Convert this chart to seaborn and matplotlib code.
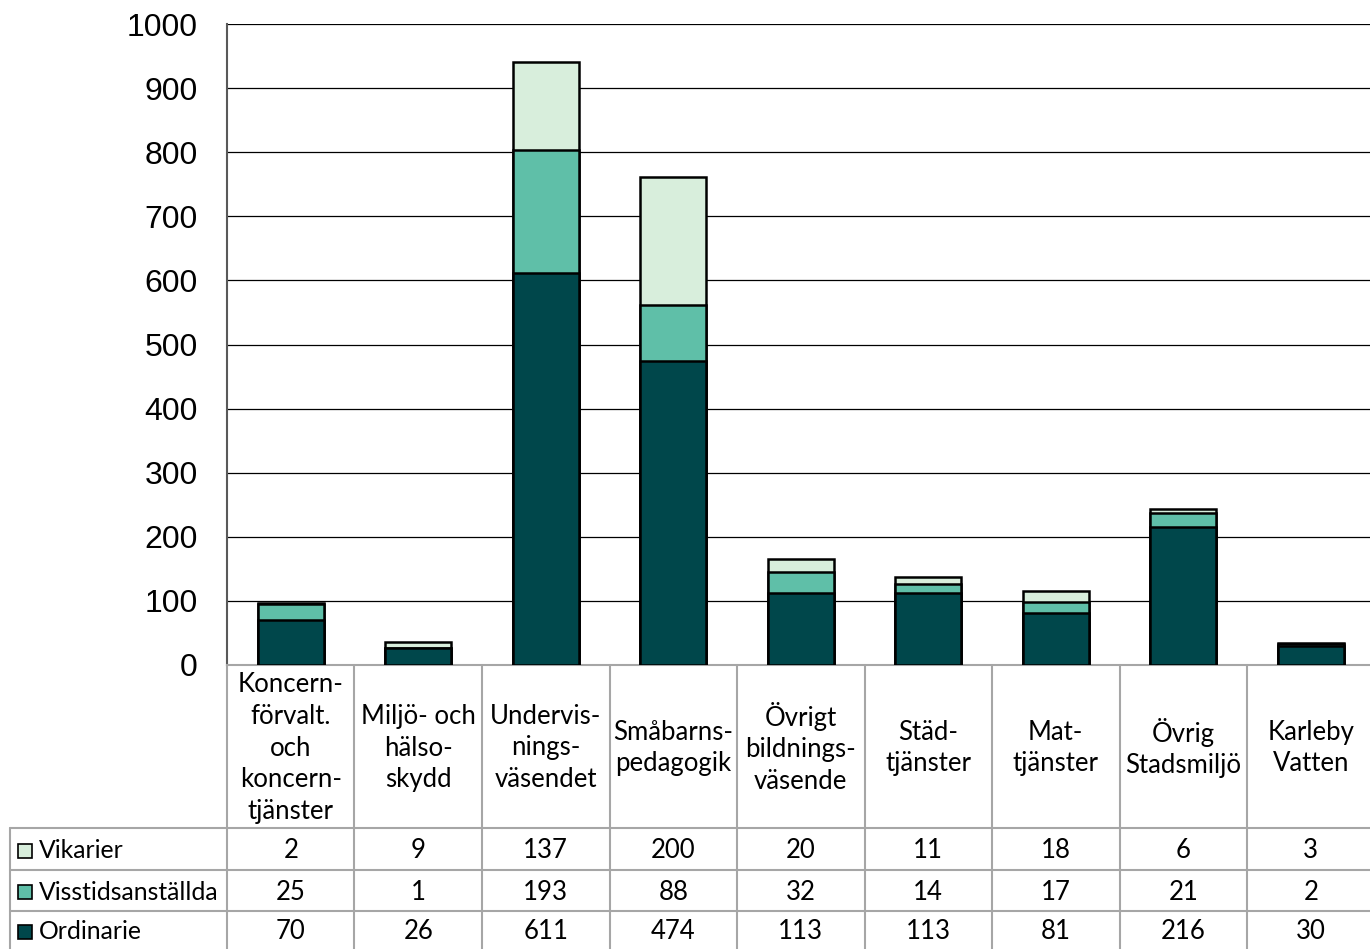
import matplotlib
matplotlib.use("Agg")
import matplotlib.pyplot as plt
import seaborn as sns
import pandas as pd
import numpy as np
from matplotlib.lines import Line2D
from matplotlib.patches import Rectangle

categories = ["Koncern-\nförvalt.\noch\nkoncern-\ntjänster", "Miljö- och\nhälso-\nskydd",
              "Undervis-\nnings-\nväsendet", "Småbarns-\npedagogik", "Övrigt\nbildnings-\nväsende",
              "Städ-\ntjänster", "Mat-\ntjänster", "Övrig\nStadsmiljö", "Karleby\nVatten"]
series_names = ["Vikarier", "Visstidsanställda", "Ordinarie"]
vikarier = [2, 9, 137, 200, 20, 11, 18, 6, 3]
visstid = [25, 1, 193, 88, 32, 14, 17, 21, 2]
ordinarie = [70, 26, 611, 474, 113, 113, 81, 216, 30]
yticks = [0, 100, 200, 300, 400, 500, 600, 700, 800, 900, 1000]

colors = {"Vikarier": "#D8EEDC", "Visstidsanställda": "#5FBFA8", "Ordinarie": "#00474B"}

sns.set_theme(style="white")
plt.rcParams['font.family'] = ['Liberation Sans', 'DejaVu Sans']

W, H = 1370, 949
fig = plt.figure(figsize=(W / 100, H / 100), dpi=100)

def fx(x):
    return x / W

def fy(y):
    return 1 - y / H

colw = 127.5
ax_l, ax_t, ax_b = 227, 24, 665
ax_r = ax_l + colw * 9
ax = fig.add_axes([fx(ax_l), fy(ax_b), fx(ax_r - ax_l), (ax_b - ax_t) / H])

df = pd.DataFrame({"cat": categories, "Vikarier": vikarier,
                   "Visstidsanställda": visstid, "Ordinarie": ordinarie})
df["top3"] = df["Ordinarie"] + df["Visstidsanställda"] + df["Vikarier"]
df["top2"] = df["Ordinarie"] + df["Visstidsanställda"]

bw = 0.52
for col, cname in [("top3", "Vikarier"), ("top2", "Visstidsanställda"), ("Ordinarie", "Ordinarie")]:
    sns.barplot(data=df, x="cat", y=col, color=colors[cname], saturation=1, width=bw,
                edgecolor="black", linewidth=1.8, ax=ax, zorder=3)

ax.set_ylim(0, 1000)
ax.set_xlim(-0.5, len(categories) - 0.5)
ax.set_yticks(yticks)
ax.set_yticklabels([str(t) for t in yticks], fontsize=23, color="black")
ax.tick_params(axis="y", length=0, pad=21)
ax.set_xticks([])
ax.set_xlabel("")
ax.set_ylabel("")
ax.grid(axis="y", color="black", linewidth=0.9, zorder=0)
ax.set_axisbelow(True)
for s in ["top", "right"]:
    ax.spines[s].set_visible(False)
ax.spines["left"].set_color("#595959")
ax.spines["left"].set_linewidth(1.5)
ax.spines["bottom"].set_color("#A6A6A6")
ax.spines["bottom"].set_linewidth(1.5)

# Data table below
gray = "#A6A6A6"
lw = 1.5
tfont = ['Lato', 'DejaVu Sans']
fs = 18.5
row_y = [828, 870, 911, 949]
for i in range(len(categories) + 1):
    x = ax_l + colw * i
    fig.add_artist(Line2D([fx(x), fx(x)], [fy(ax_b), fy(H + 5)], color=gray, lw=lw))
fig.add_artist(Line2D([fx(10), fx(10)], [fy(828), fy(H + 5)], color=gray, lw=lw))
for y in row_y[:3]:
    fig.add_artist(Line2D([fx(10), fx(W)], [fy(y), fy(y)], color=gray, lw=lw))

for i, c in enumerate(categories):
    cx = ax_l + colw * (i + 0.5)
    fig.text(fx(cx), fy(748), c, ha="center", va="center", fontsize=fs,
             family=tfont, linespacing=1.33, color="black")

vals = [vikarier, visstid, ordinarie]
for r, name in enumerate(series_names):
    cy = (row_y[r] + row_y[r + 1]) / 2 + 1.5
    fig.add_artist(Rectangle((fx(18), fy(cy + 7)), fx(14), 14 / H,
                             facecolor=colors[name], edgecolor="black", lw=1.2))
    fig.text(fx(39), fy(cy), name, ha="left", va="center", fontsize=17.8,
             family=tfont, color="black")
    for i, v in enumerate(vals[r]):
        cx = ax_l + colw * (i + 0.5)
        fig.text(fx(cx), fy(cy), str(v), ha="center", va="center", fontsize=fs,
                 family=tfont, color="black")

fig.savefig("out.png", dpi=100)
